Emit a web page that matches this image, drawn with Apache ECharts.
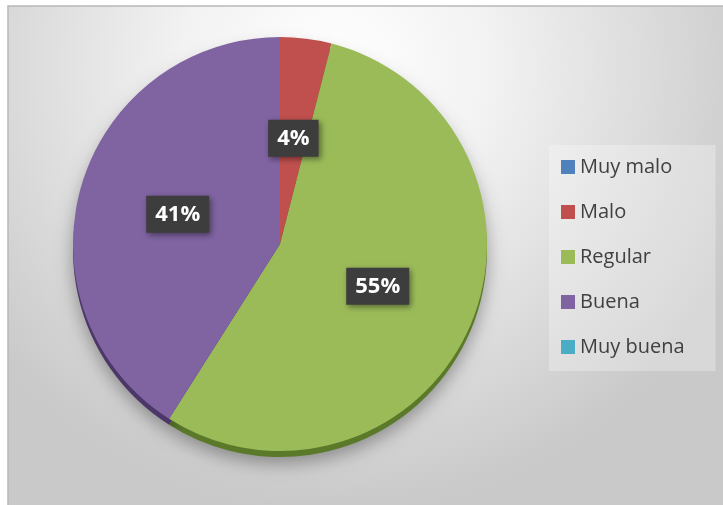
<!DOCTYPE html>
<html>
<head>
<meta charset="utf-8">
<script src="https://cdn.jsdelivr.net/npm/echarts@6/dist/echarts.min.js"></script>
<style>
html,body{margin:0;padding:0;background:#fff;}
#chart{width:723px;height:505px;}
</style>
</head>
<body>
<div id="chart"></div>
<script>
var categories = ['Muy malo', 'Malo', 'Regular', 'Buena', 'Muy buena'];
var values = [0, 4, 55, 41, 0];
var colors = ['#4F81BD', '#C0504D', '#9BBB59', '#8064A2', '#4BACC6'];
var sideColors = ['#2f4f78', '#7a2e2c', '#5a7a2a', '#4c3868', '#2a7286'];

var topData = categories.map(function (n, i) {
  return {
    name: n, value: values[i],
    itemStyle: { color: colors[i] },
    label: { show: values[i] > 0 }
  };
});
var sideData = categories.map(function (n, i) {
  return { name: n, value: values[i], itemStyle: { color: sideColors[i] } };
});

var chart = echarts.init(document.getElementById('chart'), null, { renderer: 'canvas' });
chart.setOption({
  animation: false,
  graphic: [{
    type: 'rect', z: -10, silent: true,
    shape: { x: 8, y: 6, width: 730, height: 520 },
    style: {
      fill: {
        type: 'radial', x: 0.45, y: 0.12, r: 0.85,
        colorStops: [
          { offset: 0, color: '#ffffff' },
          { offset: 0.35, color: '#f2f2f2' },
          { offset: 1, color: '#c9c9c9' }
        ]
      },
      stroke: '#b8b8b8', lineWidth: 1.5
    }
  }],
  legend: {
    data: categories,
    orient: 'vertical',
    left: 549, top: 145,
    padding: [11, 31, 13, 12],
    backgroundColor: 'rgba(255,255,255,0.28)',
    itemWidth: 14, itemHeight: 14, itemGap: 23,
    icon: 'rect',
    selectedMode: false,
    textStyle: { fontFamily: 'Open Sans', fontSize: 20, color: '#404040', lineHeight: 22 }
  },
  series: [{
    type: 'pie', name: 'top', z: 3,
    center: [280, 244], radius: 207,
    startAngle: 90, clockwise: true,
    silent: true,
    data: topData,
    itemStyle: { borderWidth: 0 },
    label: {
      position: 'inside',
      formatter: '{c}%',
      fontFamily: 'Open Sans', fontWeight: 'bold', fontSize: 22,
      color: '#ffffff',
      backgroundColor: '#3d3d3d',
      padding: [8, 9, 7, 9],
      shadowColor: 'rgba(0,0,0,0.45)', shadowBlur: 6, shadowOffsetX: 2, shadowOffsetY: 2
    },
    labelLine: { show: false }
  }, {
    type: 'pie', name: 'side', z: 1,
    center: [280, 250], radius: 207,
    startAngle: 90, clockwise: true,
    silent: true,
    data: sideData,
    label: { show: false }, labelLine: { show: false },
    itemStyle: {
      shadowColor: 'rgba(0,0,0,0.35)', shadowBlur: 18, shadowOffsetY: 6
    }
  }]
});
</script>
</body>
</html>
